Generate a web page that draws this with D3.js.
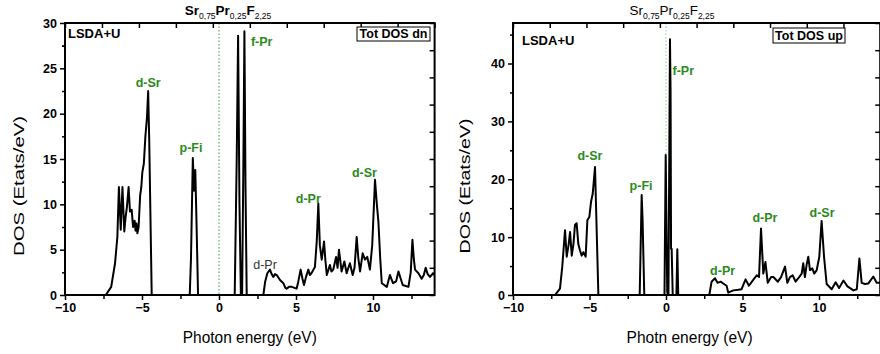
<!DOCTYPE html>
<html>
<head>
<meta charset="utf-8">
<script src="https://cdn.jsdelivr.net/npm/d3@7"></script>
<style>
  body { margin: 0; background: #fff; }
  text { font-family: "Liberation Sans", Arial, sans-serif; }
</style>
</head>
<body>
<svg id="chart" width="880" height="354"></svg>
<script>
// spin down (left panel)
const dnEnergy = [-10, -7.35, -7.0, -6.75, -6.6, -6.5, -6.38, -6.27, -6.15, -6.07, -5.98, -5.87, -5.78, -5.67, -5.58, -5.48, -5.42, -5.36, -5.3, -5.22, -5.12, -5.05, -4.98, -4.88, -4.78, -4.68, -4.6, -4.53, -4.37,
  -1.9, -1.82, -1.7, -1.62, -1.54, -1.46, -1.36,
  1.02, 1.15, 1.24, 1.33, 1.42, 1.5, 1.58, 1.65, 1.72, 1.8,
  2.88, 3.0, 3.14, 3.31, 3.42, 3.53, 3.64, 3.75, 3.96, 4.18, 4.3, 4.39, 4.55, 4.72, 5.04, 5.15, 5.3, 5.42, 5.52, 5.65, 5.8, 5.9, 6.0, 6.23, 6.35, 6.45, 6.55, 6.67, 6.82, 6.9, 7.0, 7.2, 7.3, 7.42, 7.6, 7.7, 7.79, 7.96, 8.14, 8.29, 8.4, 8.5, 8.68, 8.8, 8.94, 9.05, 9.16, 9.33, 9.48, 9.63, 9.8, 9.95, 10.13, 10.25, 10.35, 10.47, 10.57, 10.9, 11.1, 11.3, 11.5, 11.65, 11.8, 11.93, 12.3, 12.45, 12.56, 12.65, 12.73, 12.95, 13.16, 13.3, 13.42, 13.55, 13.7, 13.9, 14];
const dnDos = [0, 0, 0.9, 3.5, 6.4, 11.9, 7.2, 11.9, 7.0, 8.5, 9.7, 11.9, 9.2, 9.4, 7.5, 8.2, 7.1, 7.9, 6.8, 7.5, 11.0, 11.8, 13.5, 14.5, 17.5, 19.5, 22.5, 17.0, 0,
  0, 4, 15.1, 11.5, 13.8, 8, 0,
  0, 15, 28.6, 10, 0, 0, 14, 29.1, 12, 0,
  0, 1.5, 2.4, 2.8, 2.3, 2.0, 2.3, 2.2, 1.65, 1.3, 0.8, 0.7, 0.9, 0.9, 0.7, 1.5, 2.8, 1.8, 1.1, 2.0, 2.8, 2.2, 2.4, 3.1, 6.0, 10.1, 5.5, 3.9, 5.9, 4, 2.2, 3.3, 2.6, 2.8, 4.2, 3.0, 5.0, 2.6, 3.7, 2.4, 3.0, 3.5, 2.2, 3.0, 6.4, 4.0, 2.6, 4.6, 3.9, 4.2, 2.8, 5.5, 12.7, 10, 8.1, 4, 1.3, 0.9, 2.2, 1.3, 1.5, 2.6, 1.8, 1.1, 0.9, 2.5, 6.1, 4, 2.8, 2.4, 1.8, 2.2, 3.0, 2.3, 2.0, 2.4, 2.2];

// spin up (right panel)
const upEnergy = [-10, -7.25, -6.93, -6.78, -6.6, -6.49, -6.36, -6.27, -6.16, -6.05, -5.95, -5.84, -5.73, -5.62, -5.51, -5.4, -5.25, -5.14, -5.01, -4.9, -4.79, -4.64, -4.58, -4.42,
  -1.72, -1.59, -1.53, -1.42,
  -0.1, -0.02, 0.08, 0.16, 0.26, 0.3, 0.33, 0.37, 0.44, 0.68, 0.74, 0.8,
  2.83, 2.98, 3.2, 3.37, 3.57, 3.79, 3.96, 4.07, 4.4, 4.72, 4.94, 5.2, 5.42, 5.7, 5.93, 6.08, 6.21, 6.36, 6.5, 6.65, 6.87, 7.02, 7.31, 7.52, 7.78, 7.93, 8.1, 8.28, 8.47, 8.65, 8.87, 8.97, 9.08, 9.19, 9.3, 9.41, 9.56, 9.69, 9.85, 10.02, 10.17, 10.33, 10.5, 10.83, 11.09, 11.31, 11.6, 11.86, 12.25, 12.47, 12.64, 12.79, 13.0, 13.23, 13.55, 13.77, 14];
const upDos = [0, 0, 1.1, 4.9, 11.2, 6.6, 8.8, 10.9, 6.8, 8.8, 12.1, 12.4, 8.8, 7.7, 6.8, 7.4, 6.6, 12.9, 13.5, 16.1, 17.5, 22.1, 16.1, 0,
  0, 17.3, 13, 0,
  0, 24.2, 0.5, 0, 44.2, 34.8, 8, 8.0, 0, 0, 7.9, 0,
  0, 2.3, 2.9, 2.1, 2.3, 1.9, 1.6, 0.4, 0.8, 0.9, 1.0, 2.7, 1.6, 2.6, 3.4, 3.1, 11.5, 3.7, 5.7, 2.1, 3.1, 3.1, 2.3, 3.1, 4.9, 2.1, 3.1, 3.4, 2.3, 2.9, 3.7, 5.5, 3.1, 5.2, 6.6, 4.3, 4.6, 3.7, 4.3, 6.6, 12.8, 6.6, 1.9, 1.0, 2.2, 1.2, 2.5, 1.5, 0.8, 1.0, 6.3, 2.1, 1.9, 2.0, 3.2, 2.1, 2.1];

// peak annotations (text, energy, dos)
const dnLabels = [["d-Sr", -4.6, 22.9], ["p-Fi", -1.82, 15.8], ["f-Pr", 2.77, 27.5], ["d-Pr", 5.8, 10.1], ["d-Sr", 9.44, 13.0]];
const upLabels = [["d-Sr", -4.97, 23.3], ["p-Fi", -1.63, 18.2], ["f-Pr", 1.13, 38.1], ["d-Pr", 3.7, 3.4], ["d-Pr", 6.47, 12.6], ["d-Sr", 10.2, 13.4]];

const xTicks = [-10, -5, 0, 5, 10];
const dnYTicks = [0, 5, 10, 15, 20, 25, 30];
const upYTicks = [0, 10, 20, 30, 40];

const svg = d3.select('#chart');
const green = '#2b8a1b';

function drawPanel(p) {
  const x = d3.scaleLinear().domain([-10, 14]).range([p.left, p.right]);
  const y = d3.scaleLinear().domain([0, p.yMax]).range([295, 23]);
  const g = svg.append('g');

  g.append('clipPath').attr('id', p.id)
    .append('rect').attr('x', p.left).attr('y', 23)
    .attr('width', p.right - p.left).attr('height', 272);

  // Fermi level
  g.append('line')
    .attr('x1', x(0)).attr('x2', x(0)).attr('y1', 23).attr('y2', 295)
    .attr('stroke', p.fermiColor).attr('stroke-width', 1)
    .attr('stroke-dasharray', '1.5,2');

  const line = d3.line().x(d => x(d[0])).y(d => y(d[1]));
  g.append('path')
    .datum(d3.zip(p.energy, p.dos))
    .attr('clip-path', 'url(#' + p.id + ')')
    .attr('d', line)
    .attr('fill', 'none').attr('stroke', '#000')
    .attr('stroke-width', 2).attr('stroke-linejoin', 'round');

  // axes
  const fmt = d3.format('d');
  g.append('g').attr('transform', 'translate(0,295)')
    .call(d3.axisBottom(x).tickValues(xTicks).tickSize(5).tickFormat(fmt));
  g.append('g').attr('transform', 'translate(0,295)')
    .call(d3.axisBottom(x).tickValues([-7.5, -2.5, 2.5, 7.5, 12.5]).tickSize(4).tickFormat(''));
  g.append('g').attr('transform', 'translate(' + p.left + ',0)')
    .call(d3.axisLeft(y).tickValues(p.yTicks).tickSize(5).tickFormat(fmt));
  g.append('g').attr('transform', 'translate(' + p.left + ',0)')
    .call(d3.axisLeft(y).tickValues(p.yTicks.slice(0, -1).map(v => v + p.yStep / 2).concat(p.yMinorExtra)).tickSize(3).tickFormat(''));
  g.append('g').attr('transform', 'translate(0,23)')
    .call(d3.axisBottom(x).tickValues(d3.range(11).map(i => -10 + i * 2.4)).tickSize(5).tickFormat(''));
  g.append('g').attr('transform', 'translate(' + p.right + ',0)')
    .call(d3.axisLeft(y).tickValues(d3.range(11).map(i => i * p.yMax / 10)).tickSize(5).tickFormat(''));

  g.selectAll('.domain').remove();
  g.selectAll('.tick line').attr('stroke', '#000').attr('stroke-width', 1.5);
  g.selectAll('.tick text').attr('font-size', 12.5).attr('font-weight', 'bold')
    .attr('fill', '#000').style('font-family', '"Liberation Sans", Arial, sans-serif');

  g.append('rect')
    .attr('x', p.left).attr('y', 23)
    .attr('width', p.right - p.left).attr('height', 272)
    .attr('fill', 'none').attr('stroke', '#000').attr('stroke-width', 2);

  // peak labels
  g.selectAll('.peak').data(p.labels).join('text')
    .attr('x', d => x(d[1])).attr('y', d => y(d[2]))
    .attr('text-anchor', 'middle')
    .attr('font-size', 12.5).attr('font-weight', 'bold')
    .attr('fill', green)
    .text(d => d[0]);

  if (p.extraLabel) {
    g.append('text')
      .attr('x', x(p.extraLabel[1])).attr('y', y(p.extraLabel[2]))
      .attr('text-anchor', 'middle').attr('font-size', 12.5).attr('fill', '#333')
      .text(p.extraLabel[0]);
  }

  g.append('text').attr('x', p.left + p.lsdaDx).attr('y', p.lsdaY)
    .attr('font-size', 13).attr('font-weight', 'bold').text('LSDA+U');

  g.append('rect').attr('x', p.box[0]).attr('y', p.box[1])
    .attr('width', p.box[2]).attr('height', p.box[3])
    .attr('fill', '#fff').attr('stroke', '#000').attr('stroke-width', 1);
  g.append('text').attr('x', p.box[0] + p.box[2] / 2).attr('y', p.box[1] + p.box[3] - 3)
    .attr('text-anchor', 'middle').attr('font-size', 12.5).attr('font-weight', 'bold')
    .text(p.boxText);

  // title
  const t = g.append('text').attr('x', p.titleX).attr('y', 15)
    .attr('text-anchor', 'middle').attr('font-size', 13.5)
    .attr('font-weight', p.titleBold ? 'bold' : 'normal');
  [['Sr', false], ['0,75', true], ['Pr', false], ['0,25', true], ['F', false], ['2,25', true]].forEach(s => {
    t.append('tspan').text(s[0])
      .attr('font-size', s[1] ? 8.5 : 13.5)
      .attr('dy', s[1] ? 4 : -4)
      .attr('font-weight', s[1] ? 'normal' : null);
  });
  t.select('tspan').attr('dy', 0);

  // axis titles
  g.append('text').attr('x', (p.left + p.right) / 2 + p.xTitleDx).attr('y', 343)
    .attr('text-anchor', 'middle').attr('font-size', 16)
    .attr('textLength', p.xTitleLen).attr('lengthAdjust', 'spacingAndGlyphs')
    .text(p.xTitle);
  g.append('text')
    .attr('transform', 'translate(' + p.yTitleX + ',' + p.yTitleY + ') rotate(-90)')
    .attr('text-anchor', 'middle').attr('font-size', 15)
    .attr('textLength', p.yTitleLen).attr('lengthAdjust', 'spacingAndGlyphs')
    .text('DOS (Etats/eV)');
}

drawPanel({
  id: 'clipDn', left: 65, right: 434.6, yMax: 30,
  yTicks: dnYTicks, yStep: 5, yMinorExtra: [27.5],
  energy: dnEnergy, dos: dnDos, labels: dnLabels,
  extraLabel: ['d-Pr', 2.99, 2.9],
  fermiColor: '#3a9a3a',
  lsdaDx: 3, lsdaY: 38,
  box: [357, 27, 73, 14], boxText: 'Tot DOS dn',
  titleX: 228, titleBold: true,
  xTitle: 'Photon energy (eV)', xTitleDx: 0, xTitleLen: 134,
  yTitleX: 24, yTitleY: 186, yTitleLen: 140
});

drawPanel({
  id: 'clipUp', left: 513, right: 880.2, yMax: 47,
  yTicks: upYTicks, yStep: 10, yMinorExtra: [45],
  energy: upEnergy, dos: upDos, labels: upLabels,
  extraLabel: null,
  fermiColor: '#8fd08f',
  lsdaDx: 9, lsdaY: 45,
  box: [773, 28, 72, 15], boxText: 'Tot DOS up',
  titleX: 672, titleBold: false,
  xTitle: 'Photn energy (eV)', xTitleDx: -7, xTitleLen: 126,
  yTitleX: 470, yTitleY: 186, yTitleLen: 135
});
</script>
</body>
</html>
